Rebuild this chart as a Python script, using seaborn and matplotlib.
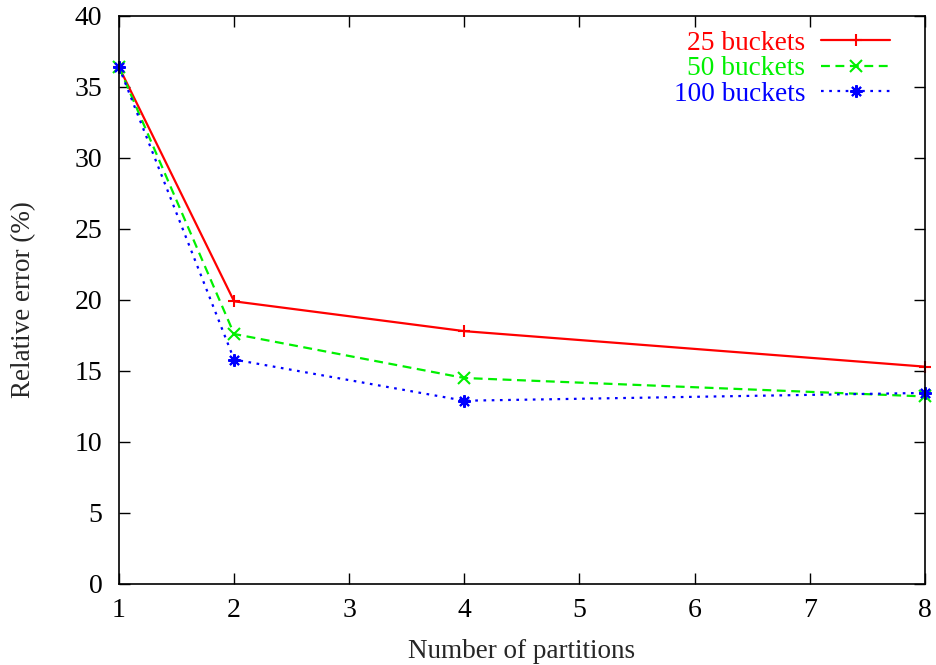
import matplotlib
matplotlib.use("Agg")
import matplotlib.pyplot as plt
import seaborn as sns

# --------------------------------------------------
# Data
# --------------------------------------------------
partitions = [1, 2, 4, 8]
err_25 = [36.4, 19.9, 17.8, 15.3]
err_50 = [36.4, 17.6, 14.5, 13.2]
err_100 = [36.4, 15.8, 12.9, 13.45]

series = [
    ("25 buckets", err_25, "#ff0000", "-", "+"),
    ("50 buckets", err_50, "#00f000", (0, (4, 2.5)), "x"),
    ("100 buckets", err_100, "#0000ff", (0, (1.2, 2.5)), (8, 2, 0)),
]

# --------------------------------------------------
# Style
# --------------------------------------------------
sns.set_style("ticks")
plt.rcParams["font.family"] = ["Liberation Serif", "DejaVu Serif"]
plt.rcParams["font.size"] = 16

fig = plt.figure(figsize=(9.37, 6.65), dpi=100)
ax = fig.add_axes([0.127, 0.122, 0.860, 0.854])

for label, vals, color, ls, mk in series:
    sns.lineplot(x=partitions, y=vals, ax=ax, color=color, linestyle=ls,
                 marker=mk, markersize=9, markeredgewidth=1.5,
                 markeredgecolor=color, linewidth=1.6, label=label,
                 clip_on=False)

ax.set_xlim(1, 8)
ax.set_ylim(0, 40)
ax.set_xticks(range(1, 9))
ax.set_yticks(range(0, 41, 5))
ax.tick_params(direction="in", length=8, width=1, top=True, right=True,
               labelsize=20, colors="black")
ax.tick_params(axis="y", pad=12)
ax.tick_params(axis="x", pad=10)
for sp in ax.spines.values():
    sp.set_linewidth(1.2)
    sp.set_color("black")

ax.set_xlabel("Number of partitions", fontsize=19.5, labelpad=12)
ax.set_ylabel("Relative error (%)", fontsize=19.5)
ax.yaxis.set_label_coords(-0.103, 0.5)

leg = ax.legend(loc="upper right", bbox_to_anchor=(0.9566, 0.974),
                frameon=False, markerfirst=False, labelcolor="linecolor",
                fontsize=19.7, handlelength=2.5, handletextpad=0.6,
                borderpad=0, borderaxespad=0, labelspacing=0.01)

fig.savefig("out.png", dpi=100)
